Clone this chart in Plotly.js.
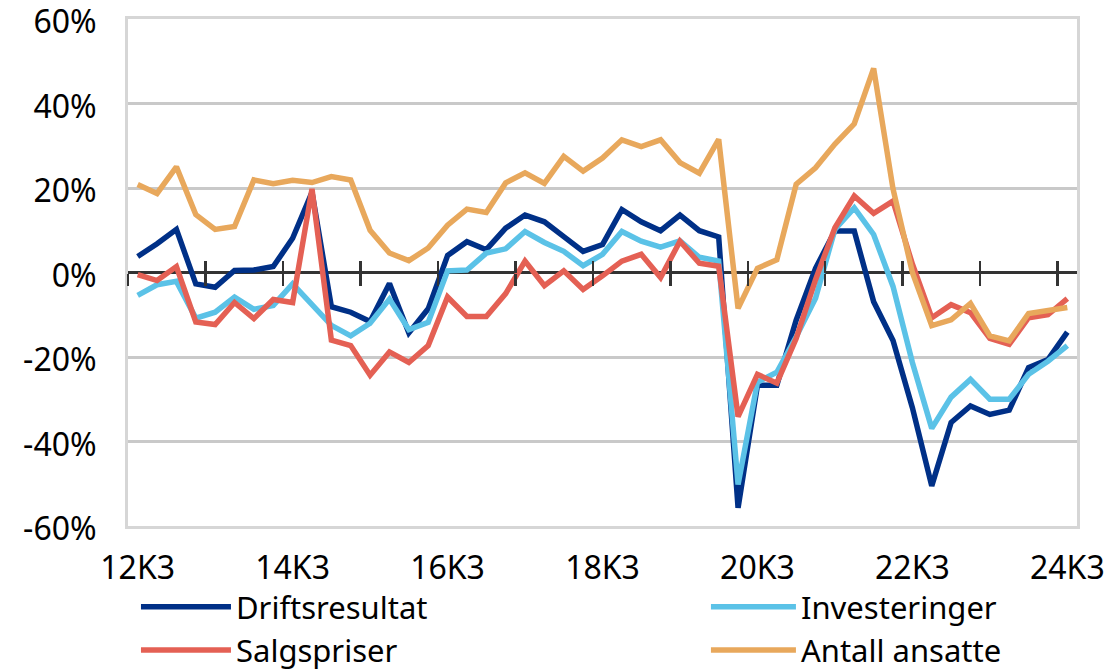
<!DOCTYPE html>
<html>
<head>
<meta charset="utf-8">
<script src="https://cdn.plot.ly/plotly-3.0.1.min.js"></script>
<style>
  html, body { margin: 0; padding: 0; background: #ffffff; }
  #chart { width: 1112px; height: 671px; }
</style>
</head>
<body>
<div id="chart"></div>
<script>
// Quarters 12K3 .. 24K3
const quarters = [
  "12K3","12K4","13K1","13K2","13K3","13K4","14K1","14K2","14K3","14K4",
  "15K1","15K2","15K3","15K4","16K1","16K2","16K3","16K4","17K1","17K2",
  "17K3","17K4","18K1","18K2","18K3","18K4","19K1","19K2","19K3","19K4",
  "20K1","20K2","20K3","20K4","21K1","21K2","21K3","21K4","22K1","22K2",
  "22K3","22K4","23K1","23K2","23K3","23K4","24K1","24K2","24K3"
];
const xTickLabels = ["12K3","14K3","16K3","18K3","20K3","22K3","24K3"];
const yTickVals = [-60, -40, -20, 0, 20, 40, 60];
const yTickText = ["-60%", "-40%", "-20%", "0%", "20%", "40%", "60%"];

const driftsresultat = [
  3.8, 6.8, 10.2, -2.7, -3.5, 0.5, 0.6, 1.4, 8.1, 19.0,
  -8.1, -9.4, -11.6, -2.6, -14.3, -8.6, 4.0, 7.3, 5.4, 10.5,
  13.6, 12.0, 8.5, 5.0, 6.6, 14.9, 12.0, 9.9, 13.6, 9.9,
  8.4, -55.7, -26.7, -26.7, -11.3, 1.0, 9.8, 9.8, -6.9, -16.1,
  -32.0, -50.5, -35.5, -31.6, -33.6, -32.6, -22.5, -20.6, -14.1
];
const investeringer = [
  -5.4, -2.9, -2.1, -10.8, -9.4, -5.8, -8.7, -7.8, -2.7, -7.5,
  -12.5, -15.0, -12.0, -6.3, -13.5, -11.8, 0.4, 0.6, 4.6, 5.6,
  9.7, 7.1, 5.0, 1.6, 4.3, 9.7, 7.4, 6.0, 7.5, 3.6,
  2.7, -50.2, -26.0, -23.6, -15.2, -6.1, 10.2, 15.3, 9.0, -3.3,
  -21.3, -36.9, -29.5, -25.3, -30.0, -30.0, -24.1, -21.0, -17.3
];
const salgspriser = [
  -0.5, -1.9, 1.4, -11.7, -12.3, -7.1, -10.9, -6.4, -7.1, 19.8,
  -16.0, -17.3, -24.3, -18.8, -21.3, -17.3, -5.8, -10.4, -10.4, -5.0,
  2.7, -3.1, 0.4, -4.0, -0.8, 2.7, 4.3, -1.2, 7.4, 2.2,
  1.5, -34.1, -24.1, -26.2, -15.6, -1.7, 10.6, 18.1, 14.0, 16.9,
  2.0, -10.7, -7.6, -9.5, -15.6, -17.0, -10.7, -10.0, -6.2
];
const antallAnsatte = [
  20.8, 18.7, 25.0, 13.7, 10.2, 10.9, 21.9, 21.0, 21.8, 21.3,
  22.7, 21.9, 10.0, 4.6, 2.8, 5.8, 11.2, 15.0, 14.2, 21.2,
  23.6, 21.1, 27.5, 24.0, 27.1, 31.4, 29.8, 31.4, 26.0, 23.5,
  31.5, -8.5, 1.0, 3.0, 20.9, 24.8, 30.4, 35.2, 48.3, 19.8,
  0.0, -12.6, -11.2, -7.3, -15.0, -16.2, -9.7, -9.1, -8.3
];

const seriesNames = ["Driftsresultat", "Investeringer", "Salgspriser", "Antall ansatte"];
const seriesColors = ["#003087", "#5BC2E7", "#E46054", "#E8A85C"];
const seriesLegends = ["legend", "legend2", "legend", "legend2"];
const seriesValues = [driftsresultat, investeringer, salgspriser, antallAnsatte];

const FONT = "Noto Sans, Open Sans, DejaVu Sans, sans-serif";

const traces = seriesValues.map((vals, k) => ({
  type: "scatter",
  mode: "lines",
  x: quarters,
  y: vals,
  name: seriesNames[k],
  legend: seriesLegends[k],
  line: { color: seriesColors[k], width: 5.5 },
  hoverinfo: "skip"
}));

// Boundary tick positions every 4 quarters, derived from the category count
const boundaryTicks = [];
for (let i = 0; i < quarters.length; i += 4) boundaryTicks.push(i - 0.5);
const xRange = [-0.5, quarters.length - 0.5];

// Empty helper traces so the tick-only axes on the zero line get drawn
["x2", "x3"].forEach(ax => traces.unshift({
  type: "scatter", mode: "lines", x: [], y: [], xaxis: ax, yaxis: "y",
  showlegend: false, hoverinfo: "skip"
}));

const tickAxisCommon = {
  type: "linear",
  overlaying: "x",
  anchor: "free",
  position: 0.5,
  side: "bottom",
  range: xRange,
  autorange: false,
  automargin: false,
  tickmode: "array",
  tickvals: boundaryTicks,
  ticklen: 12,
  tickwidth: 2.5,
  tickcolor: "#333333",
  showticklabels: false,
  showgrid: false,
  zeroline: false,
  showline: false,
  fixedrange: true
};

const layout = {
  width: 1112,
  height: 671,
  margin: { l: 128, r: 35, t: 19, b: 145, autoexpand: false },
  paper_bgcolor: "#ffffff",
  plot_bgcolor: "#ffffff",
  font: { family: FONT, size: 32, color: "#000000" },
  showlegend: true,
  hovermode: false,
  xaxis: {
    type: "category",
    range: xRange,
    automargin: false,
    tickmode: "array",
    tickvals: xTickLabels,
    ticktext: xTickLabels,
    ticks: "",
    ticklabelstandoff: 12,
    ticklabeloverflow: "allow",
    showgrid: false,
    zeroline: false,
    showline: true,
    mirror: true,
    linecolor: "#D6D6D6",
    linewidth: 3,
    tickfont: { family: FONT, size: 32, color: "#000000" },
    fixedrange: true
  },
  xaxis2: Object.assign({}, tickAxisCommon, { ticks: "outside" }),
  xaxis3: Object.assign({}, tickAxisCommon, { ticks: "inside" }),
  yaxis: {
    range: [-60, 60],
    automargin: false,
    tickmode: "array",
    tickvals: yTickVals,
    ticktext: yTickText,
    ticks: "",
    ticklabelstandoff: 22,
    ticklabelshift: 3,
    ticklabeloverflow: "allow",
    showgrid: true,
    gridcolor: "#C9C9C9",
    gridwidth: 3,
    zeroline: true,
    zerolinecolor: "#333333",
    zerolinewidth: 3,
    showline: true,
    mirror: true,
    linecolor: "#D6D6D6",
    linewidth: 3,
    tickfont: { family: FONT, size: 32, color: "#000000" },
    fixedrange: true
  },
  legend: {
    orientation: "v",
    x: 0.0084,
    xanchor: "left",
    y: -0.1065,
    yanchor: "top",
    bgcolor: "rgba(0,0,0,0)",
    borderwidth: 0,
    itemwidth: 90,
    font: { family: FONT, size: 31, color: "#000000" },
    tracegroupgap: 0
  },
  legend2: {
    orientation: "v",
    x: 0.609,
    xanchor: "left",
    y: -0.1065,
    yanchor: "top",
    bgcolor: "rgba(0,0,0,0)",
    borderwidth: 0,
    itemwidth: 85,
    font: { family: FONT, size: 31, color: "#000000" },
    tracegroupgap: 0
  }
};

Plotly.newPlot("chart", traces, layout, { displayModeBar: false, staticPlot: true });
</script>
</body>
</html>
